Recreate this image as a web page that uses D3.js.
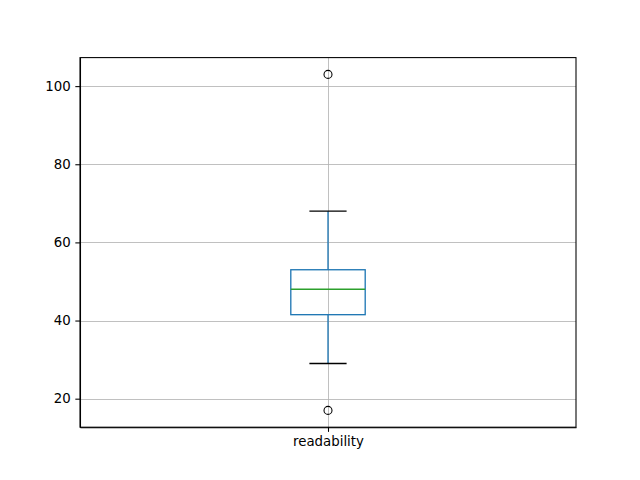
<!DOCTYPE html>
<html>
  <head>
    <meta charset="utf-8">
    <title>Readability Boxplot</title>
    <script src="https://cdn.jsdelivr.net/npm/d3@7"></script>
    <style media="screen">
      body {
        margin: 0;
        background: white;
      }
      svg {
        display: block;
      }
      .grid line {
        stroke: #b0b0b0;
        stroke-width: 0.8;
        shape-rendering: crispEdges;
      }
      .grid path {
        stroke-width: 0;
      }
      .axis text {
        font-family: "DejaVu Sans", sans-serif;
        font-size: 13.33px;
        fill: black;
      }
      .axis line, .axis path {
        stroke: black;
        stroke-width: 1.07;
      }
    </style>
  </head>
  <body>
    <script type="text/javascript">

    // box statistics for each column
    const columns = ["readability"];
    const q1 = [41.5];
    const median = [48];
    const q3 = [53];
    const whiskerLow = [29];
    const whiskerHigh = [68];
    const outliers = [[17, 103]];
    const yTicks = [20, 40, 60, 80, 100];

    let margin = {top: 57.6, right: 64, left: 80, bottom: 52.8},
        width = 640 - margin.left - margin.right,
        height = 480 - margin.top - margin.bottom;

    var svg = d3.select('body').append('svg')
      .attr('width', 640)
      .attr('height', 480)
      .append('g')
      .attr('transform', 'translate(' + margin.left + ',' + margin.top + ')');

    var x = d3.scaleLinear().domain([0.5, columns.length + 0.5]).range([0, width]);
    var y = d3.scaleLinear().domain([12.7, 107.3]).range([height, 0]);

    const boxW = 0.15, capW = 0.075;

    // gridlines
    svg.append('g')
      .attr('class', 'grid')
      .call(d3.axisLeft(y).tickValues(yTicks).tickSize(-width).tickFormat(''));

    svg.append('g')
      .attr('class', 'grid')
      .attr('transform', 'translate(0,' + height + ')')
      .call(d3.axisBottom(x).tickValues(columns.map((c, i) => i + 1)).tickSize(-height).tickFormat(''));

    columns.forEach((c, i) => {
      let p = i + 1;
      let g = svg.append('g');

      // whiskers
      g.append('line')
        .attr('x1', x(p)).attr('x2', x(p))
        .attr('y1', y(q1[i])).attr('y2', y(whiskerLow[i]))
        .attr('stroke', '#1f77b4').attr('stroke-width', 1.33);
      g.append('line')
        .attr('x1', x(p)).attr('x2', x(p))
        .attr('y1', y(q3[i])).attr('y2', y(whiskerHigh[i]))
        .attr('stroke', '#1f77b4').attr('stroke-width', 1.33);

      // caps
      [whiskerLow[i], whiskerHigh[i]].forEach(v => {
        g.append('line')
          .attr('x1', x(p - capW / 2)).attr('x2', x(p + capW / 2))
          .attr('y1', y(v)).attr('y2', y(v))
          .attr('stroke', 'black').attr('stroke-width', 1.33);
      });

      // box
      g.append('rect')
        .attr('x', x(p - boxW / 2))
        .attr('y', y(q3[i]))
        .attr('width', x(p + boxW / 2) - x(p - boxW / 2))
        .attr('height', y(q1[i]) - y(q3[i]))
        .attr('fill', 'none')
        .attr('stroke', '#1f77b4')
        .attr('stroke-width', 1.33);

      // median
      g.append('line')
        .attr('x1', x(p - boxW / 2)).attr('x2', x(p + boxW / 2))
        .attr('y1', y(median[i])).attr('y2', y(median[i]))
        .attr('stroke', '#2ca02c').attr('stroke-width', 1.33);

      // fliers
      g.selectAll('.flier')
        .data(outliers[i]).enter()
        .append('circle')
        .attr('class', 'flier')
        .attr('cx', x(p))
        .attr('cy', d => y(d))
        .attr('r', 4)
        .attr('fill', 'none')
        .attr('stroke', 'black')
        .attr('stroke-width', 1.07);
    });

    // axes
    svg.append('g')
      .attr('class', 'axis')
      .call(d3.axisLeft(y).tickValues(yTicks).tickSize(4.67).tickSizeOuter(0).tickPadding(4.67));

    svg.append('g')
      .attr('class', 'axis')
      .attr('transform', 'translate(0,' + height + ')')
      .call(d3.axisBottom(x).tickValues(columns.map((c, i) => i + 1))
        .tickFormat((d, i) => columns[i]).tickSize(4.67).tickSizeOuter(0).tickPadding(4.67));

    // frame
    svg.append('rect')
      .attr('width', width)
      .attr('height', height)
      .attr('fill', 'none')
      .attr('stroke', 'black')
      .attr('stroke-width', 1.07);
    </script>
  </body>
</html>
